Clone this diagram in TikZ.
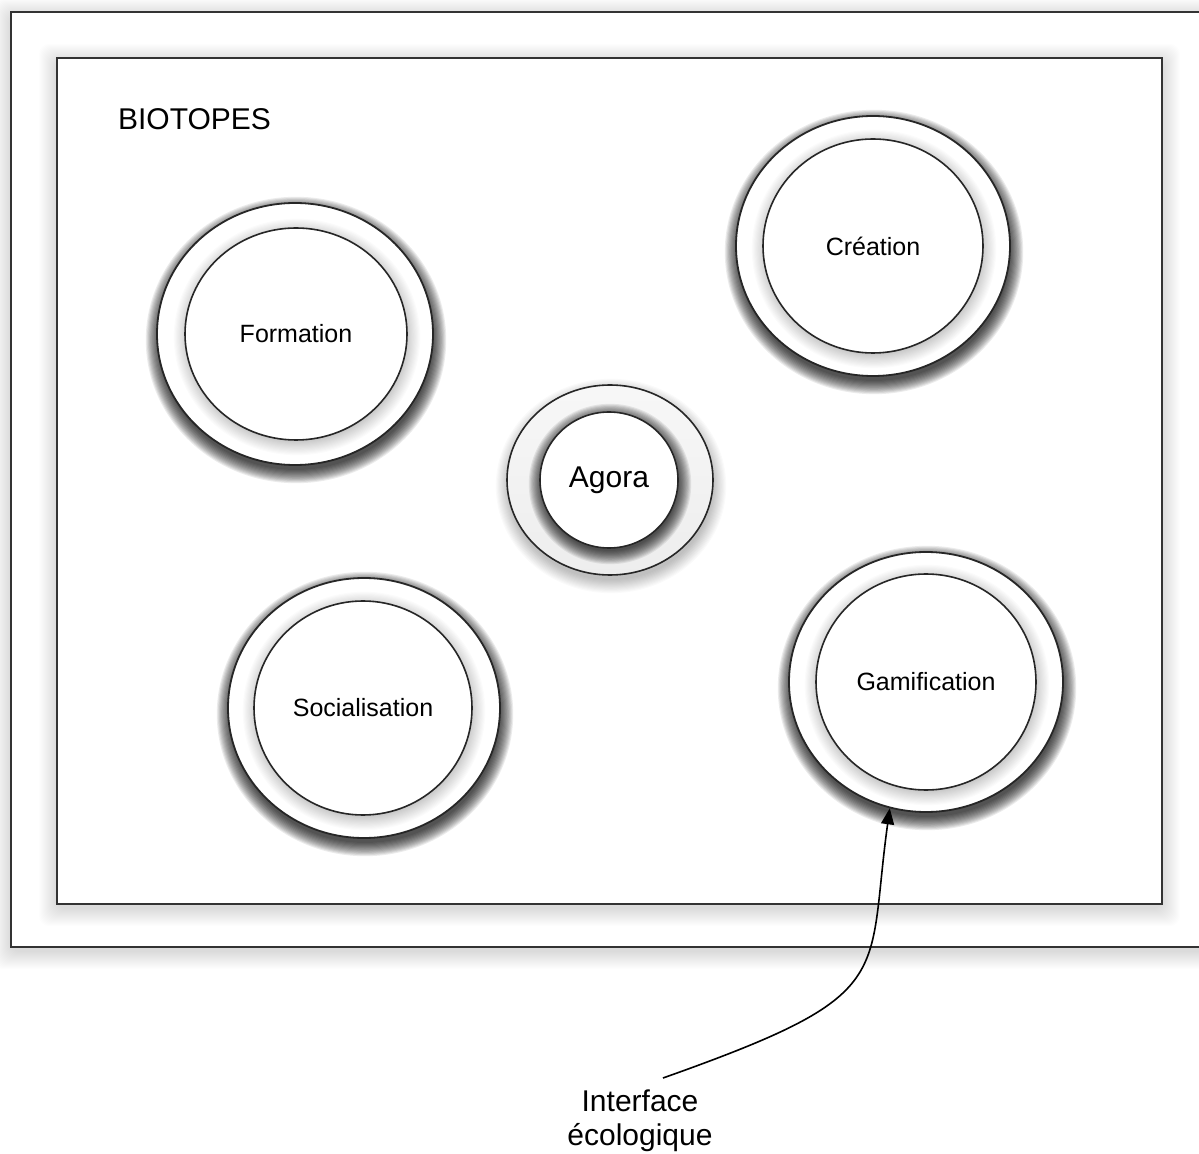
\documentclass[tikz,border=0pt]{standalone}
\usepackage{fontspec}
\setmainfont{Liberation Sans}
\usetikzlibrary{shapes.geometric,arrows.meta}
% soft shadow under an ellipse: x y rx ry opacity (px units)
\newcommand\softshadow[5]{%
  \foreach \k in {0,...,12}{%
    \pgfmathsetmacro\rxk{(#3-1+1.1*\k)*0.5}%
    \pgfmathsetmacro\ryk{(#4-1+1.1*\k)*0.5}%
    \fill[black, opacity=#5] ({#1+1},{#2+6}) ellipse [x radius=\rxk pt, y radius=\ryk pt];}}
% soft glow round a rectangle: x1 y1 x2 y2
\newcommand\softglow[4]{%
  \foreach \k in {1,...,18}{%
    \fill[black, opacity=0.008, rounded corners=5pt] ({#1-\k},{#2-\k+4}) rectangle ({#3+\k},{#4+\k+4});}}
\begin{document}
\begin{tikzpicture}[x=0.5pt,y=-0.5pt,
  frame/.style={draw=black!80, line width=1.1pt, fill=white},
  outerring/.style={ellipse, draw=black!85, line width=0.9pt, fill=white, inner sep=0pt},
  innerring/.style={ellipse, draw=black!85, line width=0.8pt, fill=white, inner sep=0pt,
    font=\fontsize{12.5}{15}\selectfont},
  lbl/.style={font=\fontsize{15}{18}\selectfont, align=center}]
\useasboundingbox (0,0) rectangle (1199,1154);
\clip (0,0) rectangle (1199,1154);
\fill[white] (0,0) rectangle (1199,1154);
% frames
\softglow{11}{12}{1230}{947}
\path[frame] (11,12) rectangle (1230,947);
\softglow{57}{58}{1162}{904}
\path[frame] (57,58) rectangle (1162,904);
\node[lbl, anchor=west] (bio) at (111,119) {BIOTOPES};
% shadows of outer rings
\softshadow{295}{334}{138}{131}{0.08}
\softshadow{873}{246}{137}{130}{0.08}
\softshadow{364}{708}{136}{130}{0.08}
\softshadow{926}{682}{137}{130}{0.08}
\softshadow{610}{480}{103}{95}{0.018}
% Formation
\node[outerring, minimum width=138pt, minimum height=131pt] (formo) at (295,334) {};
\softshadow{296}{331}{111}{106}{0.016}
\node[innerring, minimum width=111pt, minimum height=106pt] (formi) at (296,334) {\raisebox{-1pt}{Formation}};
% Creation
\node[outerring, minimum width=137pt, minimum height=130pt] (creo) at (873,246) {};
\softshadow{873}{243}{110}{107}{0.016}
\node[innerring, minimum width=110pt, minimum height=107pt] (crei) at (873,246) {\raisebox{-1pt}{Création}};
% Socialisation
\node[outerring, minimum width=136pt, minimum height=130pt] (soco) at (364,708) {};
\softshadow{363}{705}{109}{107}{0.016}
\node[innerring, minimum width=109pt, minimum height=107pt] (soci) at (363,708) {\raisebox{-1pt}{Socialisation}};
% Gamification
\node[outerring, minimum width=137pt, minimum height=130pt] (gamo) at (926,682) {};
\softshadow{926}{679}{110}{108}{0.016}
\node[innerring, minimum width=110pt, minimum height=108pt] (gami) at (926,682) {\raisebox{-1pt}{Gamification}};
% Agora
\node[ellipse, draw=black!85, line width=0.8pt, top color=gray!6, bottom color=gray!14, inner sep=0pt,
  minimum width=103pt, minimum height=95pt] (agoo) at (610,480) {};
\softshadow{609}{478}{69}{68}{0.08}
\node[ellipse, draw=black!85, line width=0.8pt, fill=white, inner sep=0pt,
  minimum width=69pt, minimum height=68pt, font=\fontsize{15}{18}\selectfont] (agoi) at (609,480) {Agora};
% label and arrow
\node[lbl, inner sep=0pt] (iface) at (640,1121) {Interface\\[-1pt]écologique};
\coordinate (istart) at (663,1078);
\draw[line width=0.8pt, -{Triangle[length=8pt, width=6.5pt]}] (istart) .. controls (900,994) and (866,980) .. (gamo.254);
\end{tikzpicture}
\end{document}
